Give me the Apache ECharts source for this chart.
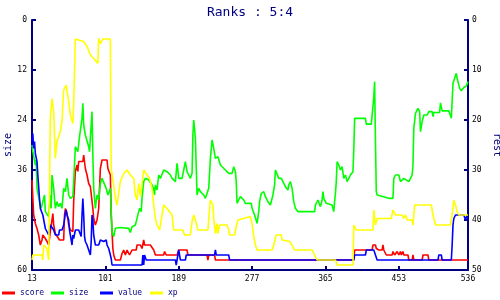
<!DOCTYPE html>
<html>
<head>
<meta charset="utf-8">
<script src="https://cdn.jsdelivr.net/npm/echarts@6/dist/echarts.min.js"></script>
<style>html,body{margin:0;padding:0;background:#fff}#c{width:500px;height:300px}</style>
</head>
<body>
<div id="c"></div>
<script>
var titleText = 'Ranks : 5:4';
var seriesNames = ['score', 'size', 'value', 'xp'];
var xTicks = [13, 101, 189, 277, 365, 453, 536];
var leftTicks = [0, 12, 24, 36, 48, 60];
var rightTicks = [0, 10, 20, 30, 40, 50];

var score = [[13,32],[14,32],[15,39],[17,40.7],[19,41.7],[21,43],[23,45],[25,44],[26,43],[29,43.7],[31,44.3],[33,45],[35,42.3],[37,40],[38,38.7],[39,41],[41,42.7],[43,43],[46,44],[51,44],[52,39],[53,37.7],[55,38.7],[57,41],[59,42],[62,42.3],[63,36.3],[65,30.3],[67,29],[68,30.3],[69,28.3],[71,28],[74,28.3],[75,27],[77,29.7],[79,31],[81,32.7],[83,33.3],[86,37.7],[87,39.7],[89,41],[91,40],[93,37.7],[94,33.7],[95,29.7],[97,28],[103,28],[104,29.7],[105,30],[107,31],[108,39],[109,42.3],[110,45.7],[111,47],[113,48],[119,48],[121,46.7],[123,46],[125,47],[127,46],[130,47],[133,46],[138,46],[139,45],[143,45],[145,45.7],[147,44],[148,45],[155,45],[159,46],[161,47],[171,47],[172,46.3],[174,47],[187,47],[189,46],[199,46],[200,47],[223,47],[224,48],[225,47],[232,47],[233,48],[399,48],[400,46],[421,46],[422,45],[425,45],[426,45.7],[429,46],[433,46],[434,45],[435,46],[438,47],[445,47],[446,46.3],[448,47],[451,46.3],[453,47],[455,46.3],[456,47],[458,46.3],[459,47],[464,47],[465,48],[469,48],[470,47],[471,48],[481,48],[482,47],[488,47],[489,48],[536,48]];

var size = [[13,30],[14,31.6],[17,34.8],[18,33.6],[19,40.4],[22,43.6],[24,45.2],[26,43.6],[28,42],[29,46],[33,47.2],[35,42],[36,45.2],[37,37.2],[39,40.4],[41,45.2],[43,43.6],[45,44.8],[47,44],[49,45.2],[51,40.4],[53,41.2],[55,38],[57,42],[59,42.8],[62,42.4],[63,38.8],[65,30.4],[67,30],[68,31.6],[70,28],[73,23.6],[74,20],[75,25.2],[77,27.6],[81,30.4],[82,31.6],[85,22],[86,32.4],[87,40.4],[89,45.2],[91,42],[93,43.2],[95,39.2],[97,38],[99,38.4],[102,40.4],[104,42],[107,40.4],[108,40.4],[109,50.8],[111,52],[113,50],[119,49.8],[129,50],[131,51],[133,49.6],[137,49.2],[139,47.6],[142,45.2],[144,46],[145,42.8],[147,38.8],[149,38],[153,38.4],[155,38],[157,39.6],[159,40.4],[160,42],[161,39.6],[163,40.8],[165,37.2],[167,38],[171,36],[175,36.4],[179,37.2],[181,38],[185,38.8],[187,34.4],[188,36],[189,38],[193,38],[195,36],[197,34],[199,36.4],[201,37.2],[203,38],[205,36.8],[206,27.6],[207,24],[209,28.4],[210,35.2],[211,42],[213,40.4],[215,41.2],[217,40.8],[219,42],[221,42.8],[225,40.4],[227,33.2],[229,28.8],[231,30.8],[233,33.2],[236,32.8],[239,34.8],[241,34.8],[245,36],[249,36.8],[253,36.8],[255,35.2],[257,36.4],[258,38.8],[259,44],[261,43.2],[263,42.4],[265,42],[267,43.2],[269,44],[276,44],[277,45.2],[280,46.8],[283,48.8],[285,46],[286,43.6],[288,41.6],[291,41.2],[293,42.4],[296,43.6],[299,44.4],[301,44.8],[302,42],[304,39.6],[305,36],[309,38],[312,38],[315,39.2],[317,40],[320,40.8],[321,39.6],[323,38.8],[325,40.4],[327,43.6],[329,45.2],[332,46],[352,46],[353,44.4],[356,43.2],[359,44.8],[361,43.2],[362,41.2],[363,42.8],[366,44],[373,44.4],[375,46],[376,43.6],[377,41.6],[378,38.8],[379,34],[381,34.8],[383,36],[385,35.2],[387,38],[389,37.2],[391,38.8],[393,38],[395,37.2],[398,36.4],[399,31.2],[400,23.6],[413,23.6],[414,25],[420,25],[421,22.8],[422,20.8],[423,18.4],[424,14.8],[425,29.2],[426,41.2],[427,42],[441,42.8],[446,42.8],[447,38],[449,37.2],[453,37.2],[455,38.8],[459,38],[465,38.8],[467,38],[469,37.2],[470,34.8],[471,26],[473,22.4],[476,21.2],[478,22],[479,26.8],[481,24.4],[483,22.8],[487,22.8],[489,22],[493,22],[494,23.2],[495,22.2],[502,22.2],[503,19.9],[505,21.8],[513,21.8],[516,23.6],[518,15.2],[520,14.8],[522,12.8],[523,14],[526,16.4],[528,17],[531,16.2],[534,15.8],[536,14.8]];

var value = [[13,24.3],[14,22.7],[15,25.7],[16,24.3],[17,26.7],[19,28.3],[20,31],[22,35.7],[23,37.7],[26,39],[27,39],[29,41.7],[31,42],[33,43],[35,41],[37,41],[39,42],[41,43],[43,42.7],[45,43],[46,42],[49,42],[51,41],[53,38.7],[54,38],[55,39],[57,40],[58,42],[59,43],[61,45],[62,43],[63,43.7],[65,42],[67,41.7],[69,42],[71,41.7],[72,43.3],[73,39],[74,35.7],[75,39],[76,43.3],[77,44.3],[79,45],[81,46],[83,47],[84,44.3],[85,39],[86,40],[87,43],[89,45],[91,44.7],[93,45],[95,44],[99,44.3],[101,44.7],[102,44],[103,45],[105,45.7],[107,47],[108,47.7],[109,49],[145,49],[146,47],[147,49],[148,47],[150,48],[185,48],[186,49],[187,48],[188,47],[189,46],[191,48],[197,48],[198,47],[232,47],[233,46],[234,47],[249,47],[250,48],[399,48],[400,47],[413,47],[414,46],[423,46],[425,47],[427,48],[500,48],[501,47],[504,47],[505,48],[516,48],[517,45],[518,41],[519,39.7],[521,39],[531,39],[533,40],[535,39],[536,39]];

var xp = [[13,48],[14,47],[25,47],[26,48],[27,45],[31,45.7],[33,48],[34,48],[35,19.7],[37,15.7],[39,18.3],[41,27.7],[43,24.3],[47,22.3],[49,20.3],[51,14],[54,13],[57,16.3],[59,19],[62,20.7],[63,16.7],[64,10.3],[65,3.8],[75,4.3],[79,5.3],[83,7],[87,7.7],[92,8.7],[93,3.7],[95,4.7],[98,3.8],[107,3.8],[108,29.7],[111,33],[113,35.7],[115,37],[119,32.3],[123,30.7],[127,30],[131,31],[135,31.7],[137,35],[139,36],[141,32.7],[143,35.3],[147,30],[154,31.7],[157,33.7],[159,37],[161,39.7],[163,41],[166,42],[171,37],[175,37.7],[181,39],[183,42],[194,42],[196,43],[203,43],[205,40.3],[207,39],[209,40],[212,42],[224,42],[226,37.7],[227,36],[230,37],[231,39.7],[233,42.7],[235,40.7],[236,42.7],[238,41],[247,41],[249,42],[250,43],[256,43],[258,41.3],[260,40],[275,39.3],[277,40.7],[279,43.3],[281,45],[283,46],[301,46],[303,45],[306,43],[312,43],[313,44],[322,44.3],[325,45],[328,46],[349,46],[352,47],[355,48],[377,48],[379,49],[398,49],[399,41],[402,42],[422,42],[423,38],[425,41],[427,39.7],[444,39.7],[446,38],[449,39],[457,39],[459,39.7],[461,39],[463,40],[469,40],[470,41],[471,41],[472,37],[492,37],[494,39],[497,41],[515,41],[517,39],[519,36],[521,37],[523,38.3],[525,39],[536,39]];

var colors = ['#ff0000', '#00ff00', '#0000ff', '#ffff00'];
var navy = '#000080';
var mono = 'DejaVu Sans Mono';
var dataSets = [score, size, value, xp];
var yIndex = [1, 0, 1, 1];
var legendLeft = [2, 51, 100, 150];

var chart = echarts.init(document.getElementById('c'), null, {renderer: 'canvas'});
chart.setOption({
  backgroundColor: '#fff',
  animation: false,
  title: {
    text: titleText, left: 'center', top: 1,
    textStyle: {color: navy, fontFamily: mono, fontSize: 13, fontWeight: 'normal'}
  },
  legend: seriesNames.map(function (n, i) {
    return {
      data: [n], left: legendLeft[i], top: 289, padding: 0,
      icon: 'rect', itemWidth: 13, itemHeight: 3,
      textStyle: {color: navy, fontFamily: mono, fontSize: 8}
    };
  }),
  grid: {left: 32, right: 32, top: 20, bottom: 30, containLabel: false, outerBoundsMode: 'none'},
  xAxis: {
    type: 'value', min: 13, max: 536,
    axisLine: {onZero: false, lineStyle: {color: navy, width: 2}},
    axisTick: {inside: true, length: 4, lineStyle: {color: navy, width: 2}, customValues: xTicks},
    axisLabel: {color: '#000', fontFamily: mono, fontSize: 8, margin: 5, customValues: xTicks},
    splitLine: {show: false}
  },
  yAxis: [{
    type: 'value', min: 0, max: 60, interval: 12, inverse: true, position: 'left',
    name: 'size', nameLocation: 'middle', nameGap: 19, nameMoveOverlap: false,
    nameTextStyle: {color: navy, fontFamily: mono, fontSize: 10},
    axisLine: {show: true, onZero: false, lineStyle: {color: navy, width: 2}},
    axisTick: {show: true, inside: true, length: 4, lineStyle: {color: navy, width: 2}},
    axisLabel: {color: '#000', fontFamily: mono, fontSize: 8, margin: 5, customValues: leftTicks},
    splitLine: {show: false}
  }, {
    type: 'value', min: 0, max: 50, interval: 10, inverse: true, position: 'right',
    name: 'rest', nameLocation: 'middle', nameGap: 24, nameRotate: -90, nameMoveOverlap: false,
    nameTextStyle: {color: navy, fontFamily: mono, fontSize: 10},
    axisLine: {show: true, onZero: false, lineStyle: {color: navy, width: 2}},
    axisTick: {show: true, inside: true, length: 4, lineStyle: {color: navy, width: 2}},
    axisLabel: {color: '#000', fontFamily: mono, fontSize: 8, margin: 4, customValues: rightTicks},
    splitLine: {show: false}
  }],
  series: seriesNames.map(function (n, i) {
    return {
      name: n, type: 'line', yAxisIndex: yIndex[i], data: dataSets[i],
      showSymbol: false, symbol: 'none', color: colors[i],
      lineStyle: {color: colors[i], width: 1.6}
    };
  })
});
</script>
</body>
</html>
